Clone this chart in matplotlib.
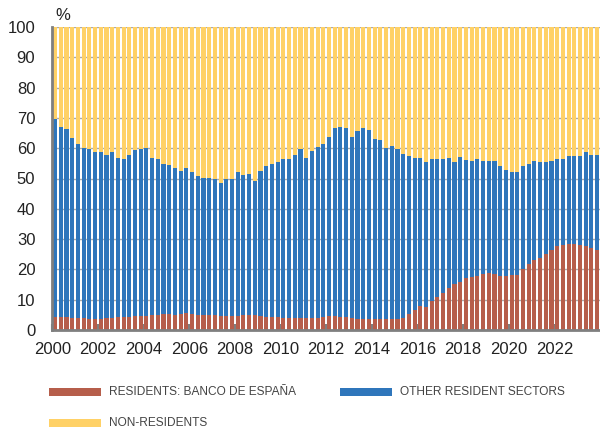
import numpy as np
import matplotlib
matplotlib.use("Agg")
import matplotlib.pyplot as plt
from matplotlib.patches import Rectangle

# quarterly shares (%), 2000Q1 .. 2023Q4
tick_years = [2000, 2002, 2004, 2006, 2008, 2010, 2012, 2014, 2016, 2018, 2020, 2022]

banco_espana = [
    4.2, 4.2, 4.2, 4.1, 3.8, 3.8, 3.7, 3.7, 3.6, 4.1, 4.1, 4.2,
    4.2, 4.4, 4.5, 4.7, 4.7, 4.8, 5.1, 5.2, 5.2, 5.1, 5.3, 5.7,
    5.4, 5.1, 5.1, 5.1, 4.8, 4.7, 4.5, 4.6, 4.7, 5.1, 4.8, 4.8,
    4.6, 4.4, 4.3, 4.2, 4.1, 4.1, 3.8, 4.1, 4.1, 4.0, 3.8, 4.4,
    4.7, 4.6, 4.2, 4.4, 4.0, 3.6, 3.5, 3.7, 3.6, 3.6, 3.5, 3.5,
    3.7, 4.1, 5.3, 6.7, 8.0, 7.7, 9.7, 11.0, 12.3, 14.0, 15.2, 16.0,
    17.1, 17.4, 17.9, 18.4, 18.7, 18.4, 17.9, 17.8, 18.0, 18.0, 20.1, 21.8,
    23.1, 23.8, 25.2, 26.4, 27.8, 28.1, 28.4, 28.4, 28.1, 27.6, 27.1, 26.5,
]
other_resident = [
    65.5, 62.7, 62.3, 59.3, 57.7, 56.3, 56.2, 55.2, 55.0, 53.6, 54.5, 52.5,
    52.2, 53.5, 54.8, 54.9, 55.3, 52.1, 51.4, 49.7, 49.4, 48.5, 47.3, 47.7,
    46.8, 45.6, 45.2, 44.9, 44.9, 43.9, 45.3, 45.2, 47.3, 46.2, 46.6, 44.5,
    48.0, 49.6, 50.4, 51.1, 52.5, 52.5, 53.9, 55.6, 52.8, 55.0, 56.7, 57.1,
    59.1, 62.0, 62.8, 62.4, 59.8, 62.2, 63.3, 62.2, 59.3, 59.1, 56.5, 57.3,
    56.0, 54.1, 52.2, 50.2, 48.8, 47.6, 46.8, 45.5, 44.0, 42.8, 40.4, 41.1,
    39.1, 38.5, 38.6, 37.4, 37.0, 37.3, 36.1, 35.1, 34.3, 34.0, 34.0, 33.1,
    32.7, 31.7, 30.4, 29.3, 28.7, 28.4, 28.9, 29.1, 29.2, 31.2, 30.8, 31.2,
]
# non-residents hold the rest of the 100%
non_resident = [100 - a - b for a, b in zip(banco_espana, other_resident)]

labels = ["RESIDENTS: BANCO DE ESPAÑA", "OTHER RESIDENT SECTORS", "NON-RESIDENTS"]
colors = ["#B65E4B", "#2F76BB", "#FFD166"]

plt.rcParams["font.family"] = ["Liberation Sans", "DejaVu Sans"]

fig = plt.figure(figsize=(6, 4.32), dpi=100)
ax = fig.add_axes([52 / 600, 1 - 330 / 432, 548 / 600, 303 / 432])

x = np.arange(len(banco_espana))
w = 0.72
bottom = np.zeros(len(x))
for vals, c in zip([banco_espana, other_resident, non_resident], colors):
    ax.bar(x, vals, w, bottom=bottom, color=c, linewidth=0, zorder=2)
    bottom += np.array(vals)

ax.set_xlim(-0.55, len(x) - 0.5)
ax.set_ylim(0, 100)
ax.set_yticks(range(0, 101, 10))
ax.set_xticks([(y - 2000) * 4 - 0.5 for y in tick_years])
ax.set_xticklabels([str(y) for y in tick_years])

ax.grid(axis="y", color="#AAAAAA", linewidth=1, zorder=0)
ax.set_axisbelow(True)
for s in ["top", "right"]:
    ax.spines[s].set_visible(False)
for s in ["left", "bottom"]:
    ax.spines[s].set_color("#7F7F7F")
    ax.spines[s].set_linewidth(2)
    ax.spines[s].set_zorder(3)

ax.tick_params(axis="y", length=0, pad=12, labelsize=12, labelcolor="#222222")
ax.tick_params(axis="x", direction="in", length=4, width=1.5, color="#7F7F7F",
               pad=9, labelsize=12, labelcolor="#222222")

fig.text(55 / 600, 1 - 15 / 432, "%", fontsize=12, color="#222222", va="center")

# legend drawn by hand: two rows
legend_pos = [(49, 392), (340, 392), (49, 423)]
for (lx, ly), lab, c in zip(legend_pos, labels, colors):
    fig.add_artist(Rectangle((lx / 600, 1 - (ly + 4) / 432), 52 / 600, 8 / 432,
                             transform=fig.transFigure, color=c, linewidth=0))
    fig.text((lx + 60) / 600, 1 - ly / 432, lab, fontsize=8.6,
             color="#444444", va="center")

fig.savefig("out.png", dpi=100)
